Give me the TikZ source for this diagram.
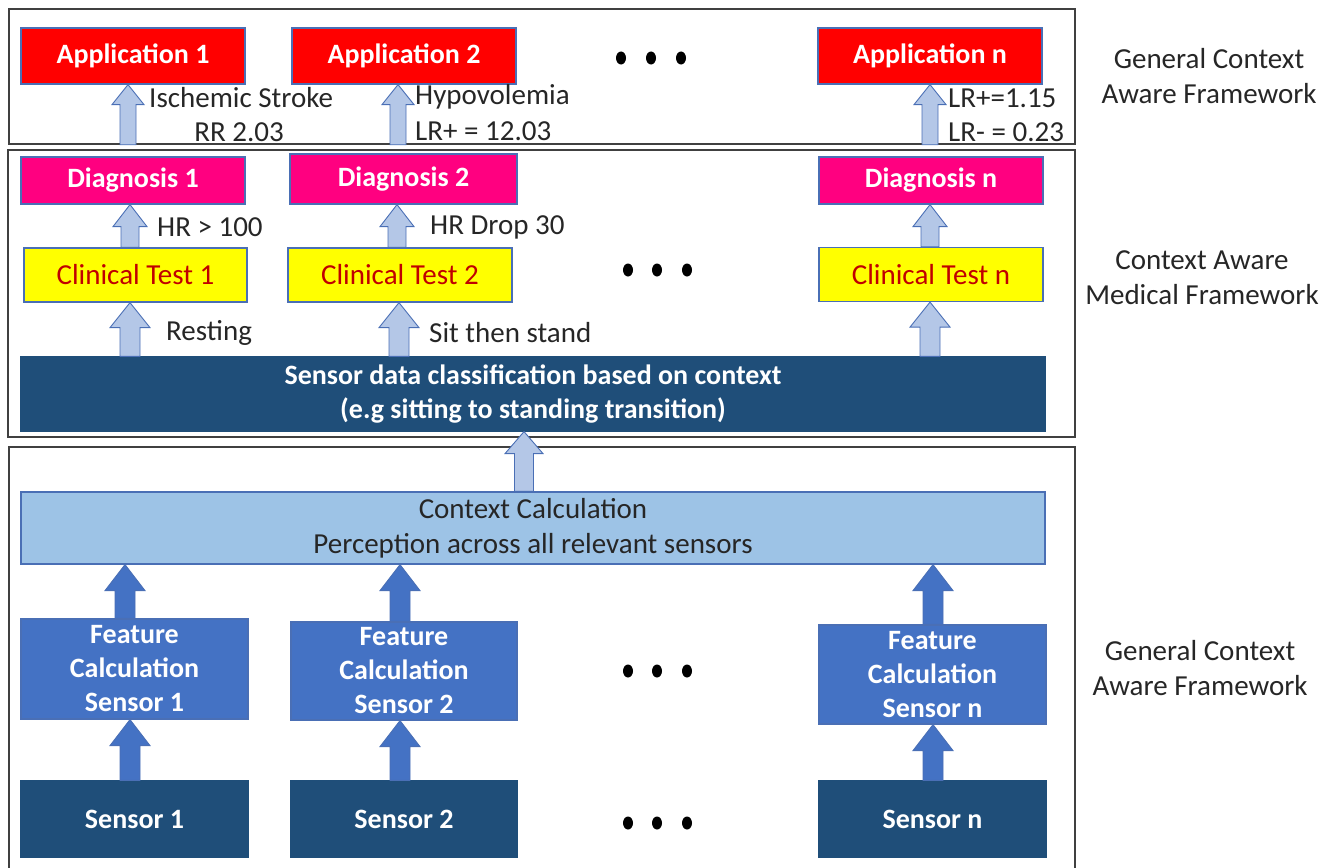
\documentclass[tikz,border=0pt]{standalone}
\usepackage{fontspec}
\setmainfont{Carlito}
\usetikzlibrary{calc}

\definecolor{appred}{HTML}{FF0000}
\definecolor{diagpink}{HTML}{FF0080}
\definecolor{testyellow}{HTML}{FFFF00}
\definecolor{testtext}{HTML}{C00000}
\definecolor{navy}{HTML}{1F4E79}
\definecolor{featblue}{HTML}{4472C4}
\definecolor{ctxblue}{HTML}{9DC3E6}
\definecolor{arrlight}{HTML}{B4C7E7}
\definecolor{edgeblue}{HTML}{4A6FB5}
\definecolor{framegray}{HTML}{404040}
\definecolor{ink}{HTML}{262626}

% upward block arrow: style, x, from, to, shaft half width, head half width, head length
\newcommand{\blockup}[7]{%
  \path[#1] let \p1=(#3), \p2=(#4) in
    (#2pt-#5pt,\y1) -- (#2pt-#5pt,\y2-#7pt) -- (#2pt-#6pt,\y2-#7pt) -- (#2pt,\y2)
    -- (#2pt+#6pt,\y2-#7pt) -- (#2pt+#5pt,\y2-#7pt) -- (#2pt+#5pt,\y1) -- cycle;}

\tikzset{
  box/.style={draw=edgeblue, line width=1.2pt, inner sep=0pt, align=center, minimum width=224pt},
  app/.style={box, fill=appred, text=white, font=\fontsize{28}{32}\selectfont\bfseries, minimum height=56pt},
  diag/.style={box, fill=diagpink, text=white, font=\fontsize{28}{32}\selectfont\bfseries, minimum height=47pt},
  test/.style={box, fill=testyellow, text=testtext, font=\fontsize{29}{33}\selectfont, minimum height=54pt},
  feat/.style={box, fill=featblue, text=white, font=\fontsize{28}{34}\selectfont\bfseries, minimum width=227pt, minimum height=100pt},
  sensor/.style={box, draw=navy, fill=navy, text=white, font=\fontsize{28}{32}\selectfont\bfseries, minimum width=227pt, minimum height=76pt},
  bar/.style={box, draw=navy, fill=navy, text=white, font=\fontsize{28}{34}\selectfont\bfseries, minimum width=1024pt, minimum height=74pt},
  ctx/.style={box, fill=ctxblue, text=ink, font=\fontsize{29}{35}\selectfont, minimum width=1024pt, minimum height=72pt},
  frame/.style={draw=framegray, line width=1.5pt, inner sep=0pt},
  lbl/.style={inner sep=0pt, text=ink, font=\fontsize{29}{33}\selectfont},
  side/.style={inner sep=0pt, text=ink, align=center, font=\fontsize{29}{35}\selectfont},
  lightarr/.style={fill=arrlight, draw=edgeblue, line width=0.9pt},
  darkarr/.style={fill=featblue, draw=edgeblue, line width=0.9pt},
  dot/.style={fill=black}
}

\begin{document}
\begin{tikzpicture}[x=1pt, y=-1pt]
\useasboundingbox (0,0) rectangle (1332,867);

% layer frames
\node[frame, minimum width=1066pt, minimum height=135pt] (topframe) at (542,76.5) {};
\node[frame, minimum width=1067pt, minimum height=287pt] (midframe) at (541.5,293.5) {};
\node[frame, minimum width=1066pt, minimum height=430pt] (botframe) at (542,662) {};

% applications
\node[app] (a1) at (133,56) {Application 1};
\node[app] (a2) at (404,56) {Application 2};
\node[app] (an) at (930,56) {Application n};
\foreach \x in {621,651,681} \fill[dot] (\x,58) ellipse (5pt and 6.5pt);

% diagnoses and clinical tests
\node[diag] (d1) at (133,180.5) {Diagnosis 1};
\node[diag, minimum width=227pt, minimum height=50pt] (d2) at (403.5,179) {Diagnosis 2};
\node[diag] (dn) at (931,180.5) {Diagnosis n};
\node[test, minimum width=223pt] (t1) at (135.5,275) {Clinical Test 1};
\node[test] (t2) at (400,275) {Clinical Test 2};
\node[test] (tn) at (931,274.5) {Clinical Test n};
\foreach \x in {628,657,687} \fill[dot] (\x,270) ellipse (5pt and 6.5pt);

\node[bar] (bar) at (533,394) {Sensor data classification based on context\\(e.g sitting to standing transition)};

% context calculation, features, sensors
\node[ctx] (ctx) at (533,528) {Context Calculation\\Perception across all relevant sensors};
\node[feat] (f1) at (134.5,669) {Feature\\Calculation\\Sensor 1};
\node[feat, minimum width=226pt, minimum height=98pt] (f2) at (404,671) {Feature\\Calculation\\Sensor 2};
\node[feat, minimum height=99pt] (fn) at (932.5,674.5) {Feature\\Calculation\\Sensor n};
\foreach \x in {628,657,687} \fill[dot] (\x,671) ellipse (5pt and 6.5pt);
\node[sensor] (s1) at (134.5,819) {Sensor 1};
\node[sensor] (s2) at (404,819) {Sensor 2};
\node[sensor] (sn) at (932.5,819) {Sensor n};
\foreach \x in {628,657,687} \fill[dot] (\x,823) ellipse (5pt and 6.5pt);

% arrows: top layer
\blockup{lightarr}{128}{topframe.south}{a1.south}{8}{16}{20}
\blockup{lightarr}{398}{topframe.south}{a2.south}{8}{16}{20}
\blockup{lightarr}{930}{topframe.south}{an.south}{8}{16}{20}
% arrows: medical layer
\blockup{lightarr}{130}{t1.north}{d1.south}{9}{17}{22}
\blockup{lightarr}{397}{t2.north}{d2.south}{9}{17}{22}
\blockup{lightarr}{930}{tn.north}{dn.south}{9}{17}{22}
\blockup{lightarr}{130}{bar.north}{t1.south}{10}{20}{25}
\blockup{lightarr}{399}{bar.north}{t2.south}{10}{20}{25}
\blockup{lightarr}{930}{bar.north}{tn.south}{10}{20}{25}
\blockup{lightarr}{524}{ctx.north}{bar.south}{9.5}{19}{22}
% arrows: general layer
\blockup{darkarr}{125}{f1.north}{ctx.south}{10}{20}{26}
\blockup{darkarr}{400}{f2.north}{ctx.south}{10}{20}{26}
\blockup{darkarr}{933}{fn.north}{ctx.south}{10}{20}{26}
\blockup{darkarr}{130}{s1.north}{f1.south}{10}{20}{26}
\blockup{darkarr}{400}{s2.north}{f2.south}{10}{20}{26}
\blockup{darkarr}{933}{sn.north}{fn.south}{10}{20}{26}

% arrow labels
\node[lbl, anchor=west] (l1) at (149,98) {Ischemic Stroke};
\node[lbl] (l2) at (239,132) {RR 2.03};
\node[lbl, anchor=west] (l3) at (415,97) {Hypovolemia};
\node[lbl, anchor=west] (l4) at (415,131) {LR+ = 12.03};
\node[lbl, anchor=west] (l5) at (948,98) {LR+=1.15};
\node[lbl, anchor=west] (l6) at (948,132) {LR- = 0.23};
\node[lbl, anchor=west] (l7) at (157,227) {HR > 100};
\node[lbl, anchor=west] (l8) at (430,227) {HR Drop 30};
\node[lbl, anchor=west] (l9) at (166,333) {Resting};
\node[lbl, anchor=west] (l10) at (429,333) {Sit then stand};

% layer titles
\node[side] (side1) at (1209,76) {General Context\\Aware Framework};
\node[side] (side2) at (1202,278) {Context Aware\\Medical Framework};
\node[side] (side3) at (1200,668) {General Context\\Aware Framework};
\end{tikzpicture}
\end{document}
